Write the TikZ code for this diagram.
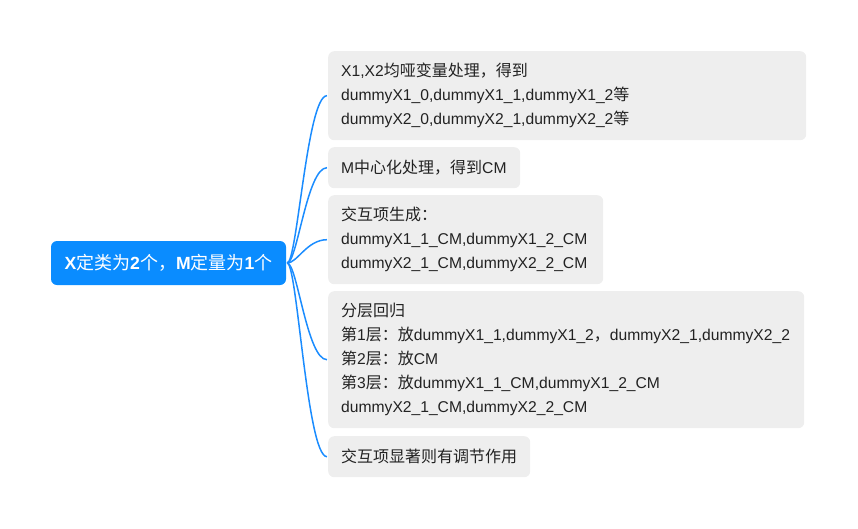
\documentclass[tikz,border=0pt]{standalone}
\usepackage{fontspec}
\setmainfont{Liberation Sans}[Scale=0.978]
\newfontfamily\cjk{Noto Sans CJK SC}
\newcommand{\zh}[1]{{\cjk #1}}
\definecolor{rootblue}{HTML}{0A8CFF}
\definecolor{linkblue}{HTML}{1A8CFF}
\definecolor{boxgray}{HTML}{EEEEEE}
\definecolor{textc}{HTML}{222222}
\tikzset{
  rootbox/.style={fill=rootblue, rounded corners=6pt, text=white, inner sep=0pt,
    minimum width=235pt, minimum height=44pt, font=\fontsize{18}{22}\selectfont},
  childbox/.style={fill=boxgray, rounded corners=6pt, anchor=north west, text=textc,
    inner xsep=13pt, inner ysep=0pt, align=left, font=\fontsize{16}{24}\selectfont},
  conn/.style={draw=linkblue, line width=1.5pt}
}
\begin{document}
\begin{tikzpicture}[x=1pt,y=-1pt]
\useasboundingbox (0,0) rectangle (858,528);
\node[rootbox] (root) at (168.5,263) {\textbf{X}\zh{定类为}\textbf{2}\zh{个，}\textbf{M}\zh{定量为}\textbf{1}\zh{个}};
\node[childbox, text width=452pt, minimum height=89pt] (c1) at (328,51)
  {X1,X2\zh{均哑变量处理，得到}\\dummyX1\_0,dummyX1\_1,dummyX1\_2\zh{等}\\dummyX2\_0,dummyX2\_1,dummyX2\_2\zh{等}};
\node[childbox, text width=166pt, minimum height=41pt] (c2) at (328,147)
  {M\zh{中心化处理，得到}CM};
\node[childbox, text width=249pt, minimum height=89pt] (c3) at (328,195)
  {\zh{交互项生成：}\\dummyX1\_1\_CM,dummyX1\_2\_CM\\dummyX2\_1\_CM,dummyX2\_2\_CM};
\node[childbox, text width=450pt, minimum height=137pt] (c4) at (328,291)
  {\zh{分层回归}\\\zh{第}1\zh{层：放}dummyX1\_1,dummyX1\_2\zh{，}dummyX2\_1,dummyX2\_2\\\zh{第}2\zh{层：放}CM\\\zh{第}3\zh{层：放}dummyX1\_1\_CM,dummyX1\_2\_CM\\dummyX2\_1\_CM,dummyX2\_2\_CM};
\node[childbox, text width=176pt, minimum height=41pt] (c5) at (328,436)
  {\zh{交互项显著则有调节作用}};
\foreach \c in {c1,c2,c3,c4,c5}{
  \draw[conn] ([xshift=1pt]root.east) .. controls +(10,0) and +(-20,0) .. ([xshift=-1pt]\c.west);
}
\end{tikzpicture}
\end{document}
